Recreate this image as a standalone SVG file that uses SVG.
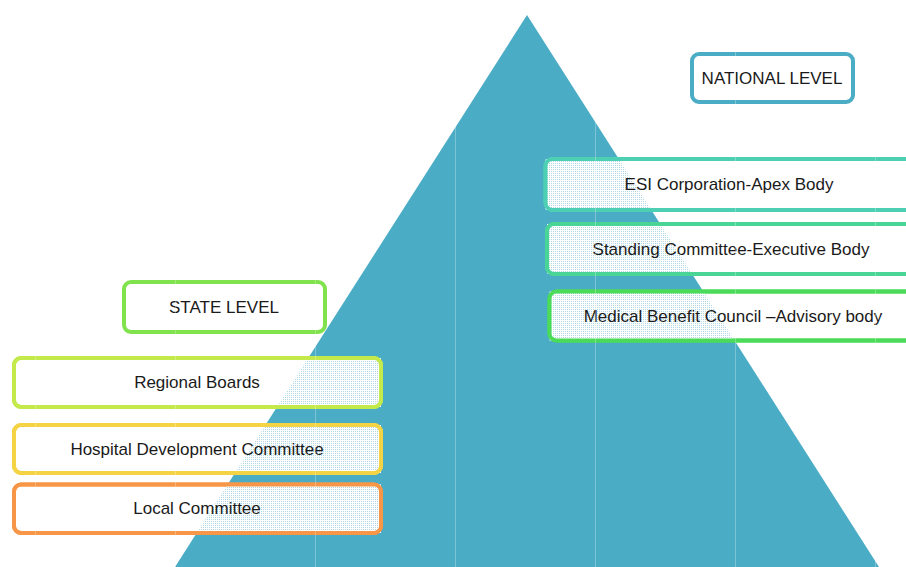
<svg xmlns="http://www.w3.org/2000/svg" width="906" height="567" viewBox="0 0 906 567">
  <defs>
    <!-- fine dot stipple used as box fill so the pyramid shows through faintly -->
    <pattern id="stipple" width="2" height="2" patternUnits="userSpaceOnUse">
      <rect width="2" height="2" fill="#ffffff"/>
      <rect x="1" y="1" width="1" height="1" fill="#4BACC6" fill-opacity="0.45"/>
    </pattern>
    <clipPath id="pyramidClip">
      <polygon points="527,15 879,567 175,567"/>
    </clipPath>
  </defs>
  <style>
    .box { fill: #ffffff; stroke-width: 4; }
    .title { fill: #ffffff; stroke-width: 4; }
    .label { font-family: "Liberation Sans", Arial, sans-serif; font-size: 17px; fill: #1a1a1a; text-anchor: middle; dominant-baseline: central; }
    .grid line { stroke: #ffffff; stroke-opacity: 0.28; stroke-width: 1; }
  </style>

  <rect width="906" height="567" fill="#ffffff"/>

  <!-- pyramid -->
  <polygon id="pyramid" points="527,15 879,567 175,567" fill="#4BACC6"/>

  <!-- national level -->
  <g id="national-level">
    <rect class="title" x="692" y="54" width="161" height="48" rx="7" stroke="#4BACC6"/>
    <text class="label" x="772" y="78">NATIONAL LEVEL</text>
  </g>
  <g id="esi-corporation">
    <rect class="box" x="545.5" y="159" width="380" height="51" rx="7" stroke="#4DCFB4"/>
    <rect x="545.5" y="159" width="380" height="51" fill="url(#stipple)" clip-path="url(#pyramidClip)"/>
    <rect x="545.5" y="159" width="380" height="51" rx="7" fill="none" stroke="#4DCFB4" stroke-width="4"/>
    <text class="label" x="729" y="184">ESI Corporation-Apex Body</text>
  </g>
  <g id="standing-committee">
    <rect class="box" x="547" y="224" width="380" height="50" rx="7" stroke="#48D596"/>
    <rect x="547" y="224" width="380" height="50" fill="url(#stipple)" clip-path="url(#pyramidClip)"/>
    <rect x="547" y="224" width="380" height="50" rx="7" fill="none" stroke="#48D596" stroke-width="4"/>
    <text class="label" x="731" y="249">Standing Committee-Executive Body</text>
  </g>
  <g id="medical-benefit-council">
    <rect class="box" x="549.5" y="291.5" width="380" height="49" rx="7" stroke="#4ADC59"/>
    <rect x="549.5" y="291.5" width="380" height="49" fill="url(#stipple)" clip-path="url(#pyramidClip)"/>
    <rect x="549.5" y="291.5" width="380" height="49" rx="7" fill="none" stroke="#4ADC59" stroke-width="4"/>
    <text class="label" x="733" y="316">Medical Benefit Council –Advisory body</text>
  </g>

  <!-- state level -->
  <g id="state-level">
    <rect class="title" x="124" y="282" width="201" height="50" rx="7" stroke="#80E24C"/>
    <text class="label" x="224" y="307">STATE LEVEL</text>
  </g>
  <g id="regional-boards">
    <rect class="box" x="14" y="358" width="367" height="49" rx="7" stroke="#C3EA4A"/>
    <rect x="14" y="358" width="367" height="49" fill="url(#stipple)" clip-path="url(#pyramidClip)"/>
    <rect x="14" y="358" width="367" height="49" rx="7" fill="none" stroke="#C3EA4A" stroke-width="4"/>
    <text class="label" x="197" y="382">Regional Boards</text>
  </g>
  <g id="hospital-development-committee">
    <rect class="box" x="14" y="425" width="367" height="48" rx="7" stroke="#F4D445"/>
    <rect x="14" y="425" width="367" height="48" fill="url(#stipple)" clip-path="url(#pyramidClip)"/>
    <rect x="14" y="425" width="367" height="48" rx="7" fill="none" stroke="#F4D445" stroke-width="4"/>
    <text class="label" x="197" y="449">Hospital Development Committee</text>
  </g>
  <g id="local-committee">
    <rect class="box" x="14" y="484.5" width="367" height="48.5" rx="7" stroke="#F79646"/>
    <rect x="14" y="484.5" width="367" height="48.5" fill="url(#stipple)" clip-path="url(#pyramidClip)"/>
    <rect x="14" y="484.5" width="367" height="48.5" rx="7" fill="none" stroke="#F79646" stroke-width="4"/>
    <text class="label" x="197" y="508">Local Committee</text>
  </g>

  <!-- faint vertical guide lines -->
  <g class="grid">
    <line x1="35.5" y1="0" x2="35.5" y2="567"/>
    <line x1="175.5" y1="0" x2="175.5" y2="567"/>
    <line x1="315.5" y1="0" x2="315.5" y2="567"/>
    <line x1="455.5" y1="0" x2="455.5" y2="567"/>
    <line x1="595.5" y1="0" x2="595.5" y2="567"/>
    <line x1="735.5" y1="0" x2="735.5" y2="567"/>
    <line x1="875.5" y1="0" x2="875.5" y2="567"/>
  </g>
</svg>
